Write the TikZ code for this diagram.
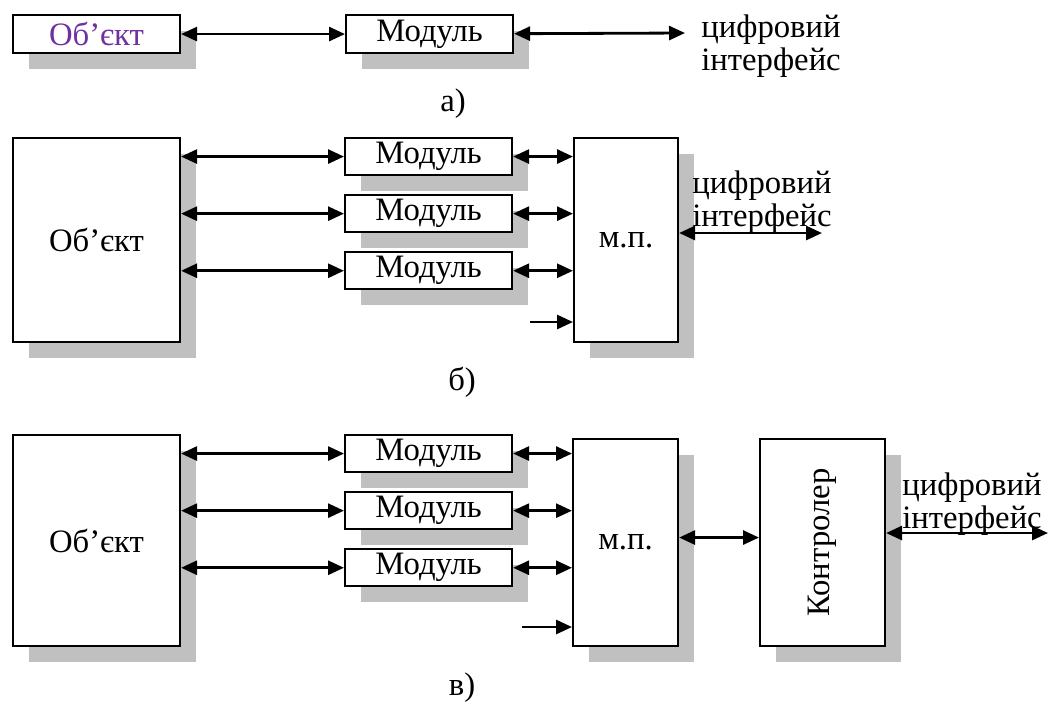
\documentclass[tikz,border=0pt]{standalone}
\usepackage{fontspec}
\setmainfont{Liberation Serif}
\usetikzlibrary{arrows.meta,positioning,shadows}

\definecolor{shgray}{RGB}{192,192,192}
\definecolor{objviolet}{RGB}{112,48,160}

\begin{document}
\begin{tikzpicture}[
    x=0.02cm, y=-0.02cm,
    node distance=0.36cm,
    font=\fontsize{18.6}{19}\selectfont,
    >={Triangle[length=0.32cm,width=0.28cm]},
    box/.style={draw, line width=1.2pt, fill=white, inner sep=0pt, align=center,
        drop shadow={fill=shgray, opacity=1, shadow xshift=0.32cm, shadow yshift=-0.32cm}},
    modbox/.style={box, minimum width=3.34cm, minimum height=0.74cm},
    link/.style={<->, line width=1.6pt},
    feed/.style={->, line width=1.6pt},
    iface/.style={anchor=west, align=left, inner sep=0pt},
    caption/.style={inner sep=0pt}
]
\useasboundingbox (0,0) rectangle (1050,701);

% a) one module
\node[box, minimum width=3.34cm, minimum height=0.76cm, anchor=north west, text=objviolet] (obja) at (12,14) {Об’єкт};
\node[modbox, minimum height=0.76cm, anchor=north west] (moda) at (345,14) {Модуль};
\coordinate (outa) at (685,33);
\draw[link] (obja) -- (moda);
\draw[link] (moda) -- (outa);
\node[iface] (ifa) at (701,46) {цифровий\\інтерфейс};
\node[caption] (capa) at (453,104) {а)};

% b) modules on a microprocessor
\node[box, minimum width=3.34cm, minimum height=4.08cm, anchor=north west] (objb) at (12,137) {Об’єкт};
\node[modbox, anchor=north west] (modb1) at (344,137) {Модуль};
\node[modbox, below=of modb1] (modb2) {Модуль};
\node[modbox, below=of modb2] (modb3) {Модуль};
\node[box, minimum width=2.08cm, minimum height=4.08cm, anchor=north west] (mpb) at (573,137) {м.п.};
\coordinate (inb) at (530,322);
\coordinate (outb) at (822,233);
\foreach \i in {1,2,3} {
  \draw[link] (objb.east |- modb\i.west) -- (modb\i.west);
  \draw[link] (modb\i.east) -- (mpb.west |- modb\i.east);
}
\draw[feed] (inb) -- (inb -| mpb.west);
\node[iface] (ifb) at (692,202) {цифровий\\інтерфейс};
\draw[link] (mpb.east |- outb) -- (outb);
\node[caption] (capb) at (462,382) {б)};

% c) microprocessor behind a controller
\node[box, minimum width=3.34cm, minimum height=4.22cm, anchor=north west] (objc) at (12,434) {Об’єкт};
\node[modbox, anchor=north west] (modc1) at (344,434) {Модуль};
\node[modbox, below=of modc1] (modc2) {Модуль};
\node[modbox, below=of modc2] (modc3) {Модуль};
\node[box, minimum width=2.1cm, minimum height=4.14cm, anchor=north west] (mpc) at (572,438) {м.п.};
\node[box, minimum width=2.5cm, minimum height=4.14cm, anchor=north west] (ctrl) at (759,438) {\rotatebox{90}{Контролер}};
\coordinate (inc) at (522,627);
\coordinate (outc) at (1048,533);
\foreach \i in {1,2,3} {
  \draw[link] (objc.east |- modc\i.west) -- (modc\i.west);
  \draw[link] (modc\i.east) -- (mpc.west |- modc\i.east);
}
\draw[feed] (inc) -- (inc -| mpc.west);
\draw[link] ([yshift=0.1cm]mpc.east) -- ([yshift=0.1cm]ctrl.west);
\node[iface] (ifc) at (902,504) {цифровий\\інтерфейс};
\draw[link] (ctrl.east |- outc) -- (outc);
\node[caption] (capc) at (462,688) {в)};
\end{tikzpicture}
\end{document}
